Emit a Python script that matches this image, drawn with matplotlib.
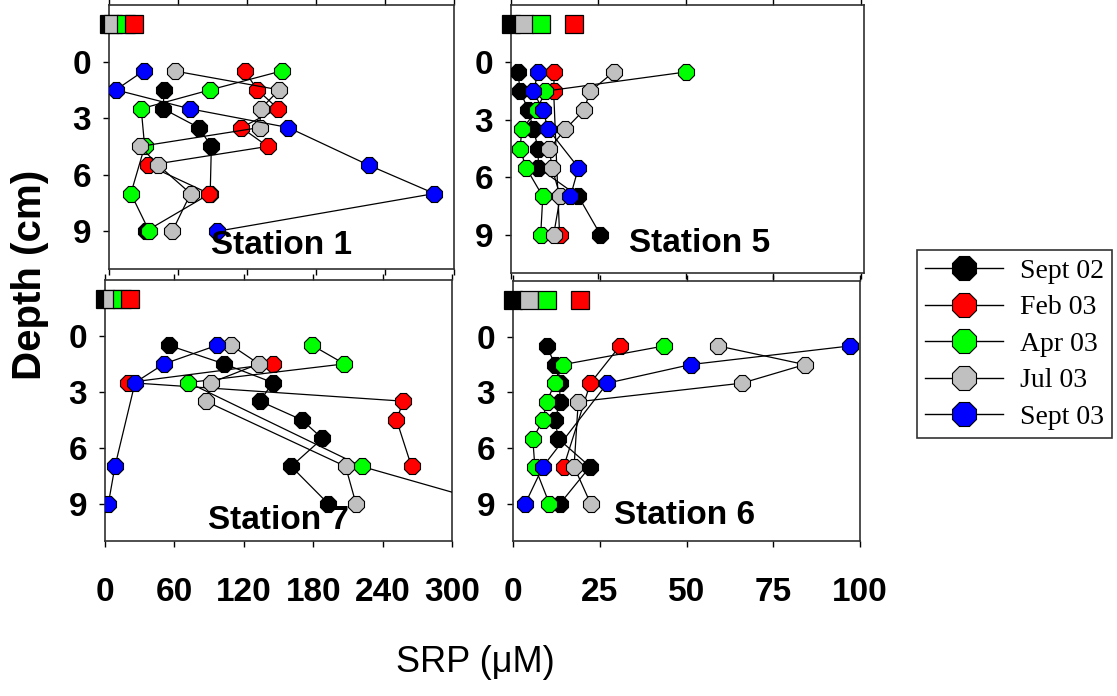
import numpy as np
import matplotlib
matplotlib.use('Agg')
import matplotlib.pyplot as plt
from matplotlib.lines import Line2D

plt.rcParams['font.family'] = 'Liberation Sans'

nan = np.nan

# depth of each pore-water sample (cm); overlying water drawn at -2
depths = [0.5, 1.5, 2.5, 3.5, 4.5, 5.5, 7, 9]
water_depth = -2

labels = ['Sept 02', 'Feb 03', 'Apr 03', 'Jul 03', 'Sept 03']
colors = ['#000000', '#ff0000', '#00ff00', '#c0c0c0', '#0000ff']

# Station 1 (SRP, uM)
st1_sep02 = [nan, 48, 47, 78, 89, nan, 88, 32]
st1_feb03 = [118, 129, 147, 115, 138, 34, 87, nan]
st1_apr03 = [150, 88, 28, nan, 31, nan, 19, 35]
st1_jul03 = [57, 148, 132, 131, 27, 43, 71, 55]
st1_sep03 = [30, 6, 70, 156, nan, 226, 283, 94]
st1_water = [0, 22, 15, 3.5, nan]

# Station 5
st5_sep02 = [2, 2.6, 5, 6.4, 7.8, 7.8, 19.3, 25.6]
st5_feb03 = [12.4, 12.2, nan, nan, nan, nan, nan, 13.9]
st5_apr03 = [50, 9.8, 7.4, 3.1, 2.6, 4.3, 9.1, 8.5]
st5_jul03 = [29.4, 22.7, 20.8, 15.5, 11, 11.7, 14.1, 12.2]
st5_sep03 = [7.8, 6.4, 9.1, 10.7, nan, 19.3, 17, nan]
st5_water = [0, 18, 8.5, 3.7, nan]

# Station 7
st7_sep02 = [55, 103, 145, 134, 170, 188, 161, 193]
st7_feb03 = [nan, 145, 20, 258, 252, nan, 265, nan]
st7_apr03 = [179, 207, 72, nan, nan, nan, 222, 335]
st7_jul03 = [109, 133, 92, 87, nan, nan, 208, 217]
st7_sep03 = [97, 51, 26, nan, nan, nan, 8.6, 2.9]
st7_water = [0, 21.6, 14.4, 6, nan]

# Station 6
st6_sep02 = [9.7, 12.1, 13.5, 13.5, 12.1, 13.1, 22.2, 13.5]
st6_feb03 = [30.8, nan, 22.3, nan, nan, nan, 14.6, nan]
st6_apr03 = [43.5, 14.5, 12.1, 9.7, 8.6, 5.7, 6.3, 10.5]
st6_jul03 = [59.2, 84.1, 66, 18.8, nan, nan, 17.6, 22.4]
st6_sep03 = [97, 51.2, 27.2, nan, nan, nan, 8.6, 3.5]
st6_water = [0, 19.3, 9.7, 4.7, nan]

W, H = 1117, 696
fig = plt.figure(figsize=(W / 100, H / 100), dpi=100)


def px_axes(x0, y0, x1, y1):
    return fig.add_axes([x0 / W, 1 - y1 / H, (x1 - x0) / W, (y1 - y0) / H])


def panel(ax, series, water, xmax, xticks, title, tx, ty, bottom):
    for vals, c in zip(series, colors):
        v = np.array(vals, dtype=float)
        d = np.array(depths, dtype=float)
        ok = ~np.isnan(v)
        ax.plot(v[ok], d[ok], '-', color='black', lw=0.9, marker='8', ms=12,
                mfc=c, mec='black', mew=0.8, zorder=3)
    # overlying water squares: black, gray, green, red drawn in that order
    for i in [0, 3, 2, 1]:
        if not np.isnan(water[i]):
            ax.plot(water[i], water_depth, 's', ms=13, mfc=colors[i],
                    mec='black', mew=0.9, clip_on=False, zorder=4)
    ax.set_xlim(0, xmax)
    ax.set_ylim(11, -3)
    ax.set_yticks([0, 3, 6, 9])
    ax.set_xticks(xticks)
    ax.tick_params(axis='both', direction='out', length=4, width=1,
                   labelsize=24, pad=9)
    ax.tick_params(axis='x', top=True, bottom=True, pad=22,
                   labelbottom=bottom)
    for lab in ax.get_xticklabels() + ax.get_yticklabels():
        lab.set_fontweight('bold')
    for s in ax.spines.values():
        s.set_linewidth(1.2)
        s.set_color('#303030')
    ax.text(tx, ty, title, transform=ax.transAxes, ha='center', va='center',
            fontsize=24, fontweight='bold')


ax1 = px_axes(109, 5, 454, 269)
panel(ax1, [st1_sep02, st1_feb03, st1_apr03, st1_jul03, st1_sep03], st1_water,
      300, [0, 60, 120, 180, 240, 300], 'Station 1', 0.50, 0.09, False)

ax5 = px_axes(511, 5, 864, 273)
panel(ax5, [st5_sep02, st5_feb03, st5_apr03, st5_jul03, st5_sep03], st5_water,
      101, [0, 25, 50, 75, 100], 'Station 5', 0.535, 0.11, False)

ax7 = px_axes(105, 280, 452, 541)
panel(ax7, [st7_sep02, st7_feb03, st7_apr03, st7_jul03, st7_sep03], st7_water,
      300, [0, 60, 120, 180, 240, 300], 'Station 7', 0.50, 0.08, True)

ax6 = px_axes(513, 281, 860, 541)
panel(ax6, [st6_sep02, st6_feb03, st6_apr03, st6_jul03, st6_sep03], st6_water,
      100, [0, 25, 50, 75, 100], 'Station 6', 0.495, 0.10, True)

fig.text(30 / W, 1 - 275 / H, 'Depth (cm)', rotation=90, ha='center',
         va='center', fontsize=29, fontweight='bold')
fig.text(475 / W, 1 - 662 / H, 'SRP (\u03bcM)', ha='center', va='center',
         fontsize=26)

handles = [Line2D([], [], color='black', lw=1, marker='8', ms=19, mfc=c,
                  mec='black', mew=0.8) for c in colors]
leg = fig.legend(handles, labels, loc='upper left',
                 bbox_to_anchor=(917 / W, 1 - 250 / H),
                 prop={'family': 'Liberation Serif', 'size': 20},
                 frameon=True, fancybox=False, edgecolor='black',
                 handlelength=2.8, labelspacing=0.4, borderpad=0.3,
                 handletextpad=0.6, borderaxespad=0)
leg.get_frame().set_linewidth(1.2)

fig.savefig('out.png', dpi=100)
